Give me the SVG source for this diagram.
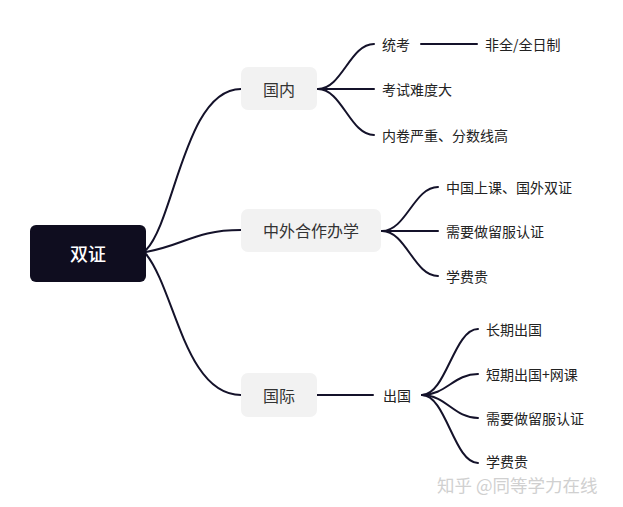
<svg xmlns="http://www.w3.org/2000/svg" width="623" height="507" viewBox="0 0 623 507">
<style>
text{font-family:"Noto Sans CJK SC","Noto Sans",sans-serif;dominant-baseline:central;}
.root{fill:#0f0d1f;}
.root-t{fill:#ffffff;font-size:18px;font-weight:500;text-anchor:middle;}
.box{fill:#f2f2f2;}
.box-t{fill:#333333;font-size:16px;text-anchor:middle;}
.leaf{fill:#222222;font-size:14px;}
.conn path{fill:none;stroke:#14122a;stroke-width:2;stroke-linecap:round;}
.wm{fill:#d0d0d0;font-size:17.5px;}
</style>
<rect width="623" height="507" fill="#ffffff"/>
<g class="conn" id="connectors">
<path d="M146 250 C175 220,185 89,241 89"/>
<path d="M146 252 C185 245,195 230,241 230"/>
<path d="M146 254 C175 290,185 395,241 395"/>
<path d="M318 89 C342 89,350 44,374 44"/>
<path d="M318 89 L374 89"/>
<path d="M318 89 C342 89,350 135,374 135"/>
<path d="M421 44 L477 44"/>
<path d="M382 231 C406 231,414 187,438 187"/>
<path d="M382 231 L438 231"/>
<path d="M382 231 C406 231,414 276,438 276"/>
<path d="M317 395 L373 395"/>
<path d="M422 395 C446 395,454 329,478 329"/>
<path d="M422 395 C446 395,454 374,478 374"/>
<path d="M422 395 C446 395,454 418,478 418"/>
<path d="M422 395 C446 395,454 463,478 463"/>
</g>
<g id="n-root"><rect class="root" x="30" y="225" width="116" height="57" rx="6"/><text class="root-t" x="88" y="253">双证</text></g>
<g id="n-guonei"><rect class="box" x="241" y="67" width="76" height="43" rx="7"/><text class="box-t" x="279" y="89">国内</text></g>
<g id="n-zhongwai"><rect class="box" x="241" y="209" width="140" height="43" rx="7"/><text class="box-t" x="311" y="230">中外合作办学</text></g>
<g id="n-guoji"><rect class="box" x="241" y="373" width="76" height="44" rx="7"/><text class="box-t" x="279" y="395">国际</text></g>
<g id="n-tongkao"><text class="leaf" x="382" y="44">统考</text></g>
<g id="n-feiquan"><text class="leaf" x="485" y="44">非全/全日制</text></g>
<g id="n-nandu"><text class="leaf" x="382" y="89">考试难度大</text></g>
<g id="n-neijuan"><text class="leaf" x="382" y="135">内卷严重、分数线高</text></g>
<g id="n-zhongguo"><text class="leaf" x="446" y="187">中国上课、国外双证</text></g>
<g id="n-liufu1"><text class="leaf" x="446" y="231">需要做留服认证</text></g>
<g id="n-xuefei1"><text class="leaf" x="446" y="276">学费贵</text></g>
<g id="n-chuguo"><text class="leaf" x="383" y="395">出国</text></g>
<g id="n-changqi"><text class="leaf" x="486" y="329">长期出国</text></g>
<g id="n-duanqi"><text class="leaf" x="486" y="374">短期出国+网课</text></g>
<g id="n-liufu2"><text class="leaf" x="486" y="418">需要做留服认证</text></g>
<g id="n-xuefei2"><text class="leaf" x="486" y="461">学费贵</text></g>
<text class="wm" x="437" y="484">知乎 @同等学力在线</text>
</svg>
